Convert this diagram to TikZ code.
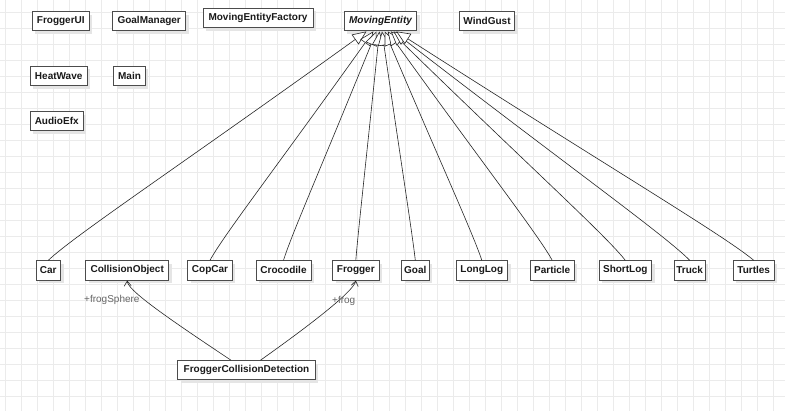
\documentclass[tikz,border=0pt]{standalone}
\usepackage{fontspec}
\setmainfont{Liberation Sans}
\usetikzlibrary{arrows.meta,shadows,calc}
\begin{document}
\begin{tikzpicture}[x=1pt,y=-1pt,
  gridline/.style={draw=black!8, line width=0.8pt},
  cls/.style={draw=black!70, line width=0.9pt, fill=white, minimum height=19.3pt,
    inner sep=0pt, font=\fontsize{10}{12}\selectfont\bfseries, text=black!90,
    drop shadow={shadow xshift=3pt, shadow yshift=-3pt, fill=black!10, opacity=1}},
  gen/.style={draw=black!85, line width=0.6pt,
    -{Triangle[open, fill=white, length=14pt, width=12pt]}},
  assoc/.style={draw=black!85, line width=0.6pt, -{Straight Barb[length=5pt, width=7pt]}},
  rolelbl/.style={font=\fontsize{10}{12}\selectfont, text=black!60, inner sep=0pt, anchor=west}]
\useasboundingbox (0,0) rectangle (785,411);
\fill[white] (0,0) rectangle (785,411);
\foreach \x in {5,21,...,781} \draw[gridline] (\x,0) -- (\x,411);
\foreach \y in {12,28,...,408} \draw[gridline] (0,\y) -- (785,\y);

% top area
\node[cls, minimum width=57pt] (froggerui) at (60.8,21.3) {FroggerUI};
\node[cls, minimum width=73pt] (goalmanager) at (149.2,21.3) {GoalManager};
\node[cls, minimum width=110pt] (mef) at (258,18) {MovingEntityFactory};
\node[cls, minimum width=72.4pt, font=\fontsize{10}{12}\selectfont\bfseries\itshape] (me) at (380.5,21.3) {MovingEntity};
\node[cls, minimum width=55pt] (windgust) at (487,21.3) {WindGust};
\node[cls, minimum width=56.7pt] (heatwave) at (58.7,76) {HeatWave};
\node[cls, minimum width=31.6pt] (main) at (129.5,76) {Main};
\node[cls, minimum width=52.7pt] (audioefx) at (56.7,121.2) {AudioEfx};

% bottom row
\node[cls, minimum width=24.7pt] (car) at (48.3,270.4) {Car};
\node[cls, minimum width=83pt] (co) at (127.2,270.4) {CollisionObject};
\node[cls, minimum width=44.6pt] (copcar) at (210,270.4) {CopCar};
\node[cls, minimum width=55pt] (crocodile) at (283.5,270.4) {Crocodile};
\node[cls, minimum width=46.3pt] (frogger) at (355.8,270.4) {Frogger};
\node[cls, minimum width=27.3pt] (goal) at (415.3,270.4) {Goal};
\node[cls, minimum width=51.7pt] (longlog) at (481.8,270.4) {LongLog};
\node[cls, minimum width=44.3pt] (particle) at (552.2,270.4) {Particle};
\node[cls, minimum width=52.7pt] (shortlog) at (625.3,270.4) {ShortLog};
\node[cls, minimum width=31.3pt] (truck) at (689.7,270.4) {Truck};
\node[cls, minimum width=40.7pt] (turtles) at (753.7,270.4) {Turtles};

\node[cls, minimum width=137.6pt] (fcd) at (246.5,370.3) {FroggerCollisionDetection};

% generalizations
\foreach \n in {car,copcar,crocodile,frogger,goal,longlog,particle,shortlog,truck,turtles}
  \draw[gen] (\n.north) .. controls ($(\n.north)!0.08!(me.center)+(0,-6)$) and ($(\n.north)!0.4!(me.center)$) .. (me);

% associations
\draw[assoc] ($(fcd.north)+(-15.5,0)$) .. controls (160,313) and (128,290) .. (co.south);
\draw[assoc] ($(fcd.north)+(14,0)$) .. controls (320,318) and (354,290) .. (frogger.south);
\node[rolelbl] (lblsphere) at (84,300) {+frogSphere};
\node[rolelbl] (lblfrog) at (332,301) {+frog};
\end{tikzpicture}
\end{document}
